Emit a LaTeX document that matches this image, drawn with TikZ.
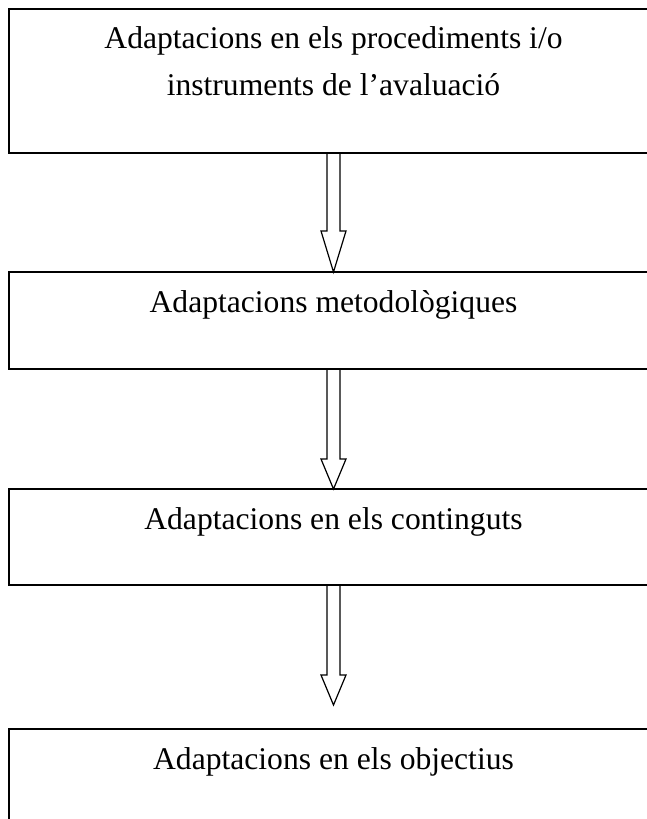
\documentclass[tikz,border=0pt]{standalone}
\usepackage{fontspec}
\setmainfont{Liberation Serif}
\usetikzlibrary{calc}

\tikzset{
  stage/.style={draw,line width=1.5pt,minimum width=649pt,inner sep=0,outer sep=0},
  caption/.style={anchor=base,align=center,inner sep=0,font=\fontsize{31.6}{47}\selectfont},
  hollow/.style={draw,line width=1.2pt,line join=miter}
}

\begin{document}
\begin{tikzpicture}[x=1pt,y=-1pt]
\clip (0,0) rectangle (647,819);
\fill[white] (0,0) rectangle (647,819);
% boxes
\node[stage,minimum height=144pt,anchor=north] (avaluacio) at (333.5,9) {};
\node[stage,minimum height=97pt,anchor=north] (metodes) at (333.5,272) {};
\node[stage,minimum height=96pt,anchor=north] (continguts) at (333.5,489) {};
\node[stage,minimum height=120pt,anchor=north] (objectius) at (333.5,729) {};
% texts (base of a two line node is its last line)
\node[caption] (avaluacio text) at ($(avaluacio.north)+(0,86)$) {Adaptacions en els procediments i/o\\instruments de l’avaluació};
\node[caption] (metodes text) at ($(metodes.north)+(0,40)$) {Adaptacions metodològiques};
\node[caption] (continguts text) at ($(continguts.north)+(0,40)$) {Adaptacions en els continguts};
\node[caption] (objectius text) at ($(objectius.north)+(0,40)$) {Adaptacions en els objectius};
% arrows
\coordinate (tip) at ($(objectius.north)+(0,-24)$);
\draw[hollow] ($(avaluacio.south)+(-6.5,0)$) -- ($(metodes.north)+(-6.5,-41)$) -- ($(metodes.north)+(-12.5,-41)$)
  -- (metodes.north) -- ($(metodes.north)+(12.5,-41)$) -- ($(metodes.north)+(6.5,-41)$) -- ($(avaluacio.south)+(6.5,0)$);
\draw[hollow] ($(metodes.south)+(-6.5,0)$) -- ($(continguts.north)+(-6.5,-30)$) -- ($(continguts.north)+(-12.5,-30)$)
  -- (continguts.north) -- ($(continguts.north)+(12.5,-30)$) -- ($(continguts.north)+(6.5,-30)$) -- ($(metodes.south)+(6.5,0)$);
\draw[hollow] ($(continguts.south)+(-6.5,0)$) -- ($(tip)+(-6.5,-30)$) -- ($(tip)+(-12.5,-30)$)
  -- (tip) -- ($(tip)+(12.5,-30)$) -- ($(tip)+(6.5,-30)$) -- ($(continguts.south)+(6.5,0)$);
\end{tikzpicture}
\end{document}
